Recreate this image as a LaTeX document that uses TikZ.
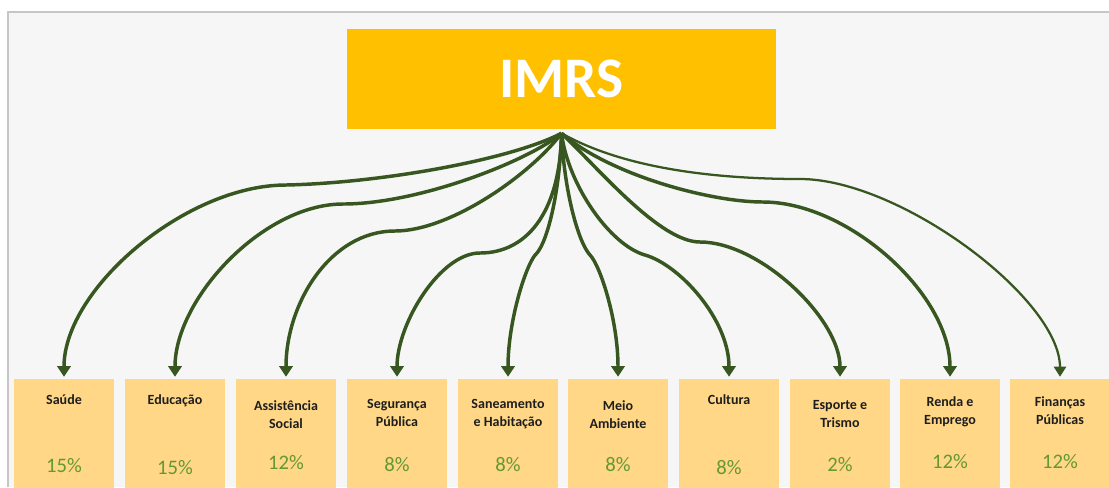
\documentclass[tikz,border=0pt]{standalone}
\usepackage{fontspec}
\setmainfont{Carlito}
\usetikzlibrary{arrows.meta}
\definecolor{imrsorange}{HTML}{FFC000}
\definecolor{boxorange}{HTML}{FFD786}
\definecolor{arrowgreen}{HTML}{375620}
\definecolor{pctgreen}{HTML}{649834}
\definecolor{bggray}{HTML}{F6F6F6}
\definecolor{framegray}{HTML}{C6C6C6}
\definecolor{labelink}{HTML}{1E1E1E}
\begin{document}
\begin{tikzpicture}[x=0.75pt,y=-0.75pt,
  topbox/.style={fill=imrsorange, draw=none, minimum width=321.75pt, minimum height=75pt, inner sep=0pt, text=white, font=\bfseries\fontsize{43}{43}\selectfont},
  catbox/.style={fill=boxorange, draw=none, minimum width=75pt, minimum height=84pt, inner sep=0pt},
  catlabel/.style={anchor=north, align=center, font=\bfseries\fontsize{10.5}{13.5}\selectfont, text=labelink, inner sep=0pt},
  pct/.style={font=\fontsize{15.5}{15.5}\selectfont, text=pctgreen, inner sep=0pt},
  conn/.style={draw=arrowgreen, line width=2.6pt, -{Triangle[width=10pt,length=8pt]}, shorten >=1.5pt},
  thinconn/.style={conn, line width=1.7pt, -{Triangle[width=9pt,length=7.5pt]}},
]
\useasboundingbox (0,0) rectangle (1109,487);
\fill[white] (0,0) rectangle (1109,487);
\fill[bggray] (8,12) rectangle (1109,487);
\draw[framegray, line width=1.2pt] (8,487) -- (8,12) -- (1109,12);

\node[topbox] (imrs) at (561.5,79) {IMRS};
\coordinate (hub) at ([yshift=-3pt]imrs.south);

\foreach \i/\x in {1/64,2/175,3/286,4/397,5/508,6/618,7/729,8/840,9/950,10/1060}
  \node[catbox] (b\i) at (\x,435) {};

\node[catlabel] (l1)  at ([yshift=-12pt]b1.north)  {Saúde};
\node[catlabel] (l2)  at ([yshift=-12pt]b2.north)  {Educação};
\node[catlabel] (l3)  at ([yshift=-16pt]b3.north)  {Assistência\\Social};
\node[catlabel] (l4)  at ([yshift=-15pt]b4.north)  {Segurança\\Pública};
\node[catlabel] (l5)  at ([yshift=-15pt]b5.north)  {Saneamento\\e Habitação};
\node[catlabel] (l6)  at ([yshift=-16pt]b6.north)  {Meio\\Ambiente};
\node[catlabel] (l7)  at ([yshift=-12pt]b7.north)  {Cultura};
\node[catlabel] (l8)  at ([yshift=-16pt]b8.north)  {Esporte e\\Trismo};
\node[catlabel] (l9)  at ([yshift=-13pt]b9.north)  {Renda e\\Emprego};
\node[catlabel] (l10) at ([yshift=-13pt]b10.north) {Finanças\\Públicas};

\node[pct] (p1)  at (64,466)   {15\%};
\node[pct] (p2)  at (175,468)  {15\%};
\node[pct] (p3)  at (286,463)  {12\%};
\node[pct] (p4)  at (397,465)  {8\%};
\node[pct] (p5)  at (508,465)  {8\%};
\node[pct] (p6)  at (618,465)  {8\%};
\node[pct] (p7)  at (729,468)  {8\%};
\node[pct] (p8)  at (840,465)  {2\%};
\node[pct] (p9)  at (950,462)  {12\%};
\node[pct] (p10) at (1060,462) {12\%};

\draw[conn] (hub) .. controls (510,160) and (380,183) .. (286,185)
  .. controls (186,185) and +(0,-90) .. (b1.north);
\draw[conn] (hub) .. controls (530,160) and (420,204) .. (343,204)
  .. controls (263,204) and +(0,-80) .. (b2.north);
\draw[conn] (hub) .. controls (530,175) and (450,231) .. (395,231)
  .. controls (330,231) and +(0,-75) .. (b3.north);
\draw[conn] (hub) .. controls (560,215) and (525,253) .. (480,253)
  .. controls (440,253) and +(0,-55) .. (b4.north);
\draw[conn] (hub) .. controls (560,190) and (548,240) .. (537,253)
  .. controls (527,261) and +(0,-59) .. (b5.north);
\draw[conn] (hub) .. controls (564,190) and (578,242) .. (590,255)
  .. controls (600,265) and +(0,-59) .. (b6.north);
\draw[conn] (hub) .. controls (568,185) and (610,245) .. (645,255)
  .. controls (680,265) and +(0,-59) .. (b7.north);
\draw[conn] (hub) .. controls (600,170) and (660,242) .. (700,242)
  .. controls (760,242) and +(0,-60) .. (b8.north);
\draw[conn] (hub) .. controls (610,175) and (710,202) .. (763,202)
  .. controls (848,202) and +(0,-85) .. (b9.north);
\draw[thinconn] (hub) .. controls (630,172) and (730,179) .. (800,179)
  .. controls (900,179) and +(0,-80) .. (b10.north);
\end{tikzpicture}
\end{document}
